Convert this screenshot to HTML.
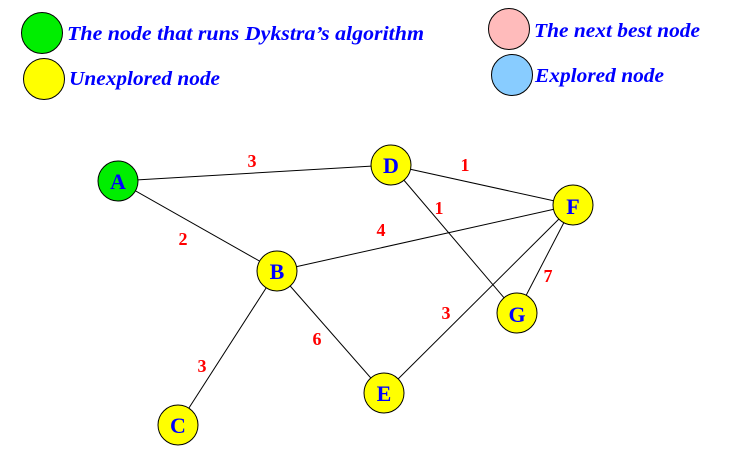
<!DOCTYPE html>
<html><head><style>body{margin:0;background:#fff}svg{display:block}</style></head><body>
<svg width="736" height="455" xmlns="http://www.w3.org/2000/svg">
<g stroke="#000" stroke-width="1">
<line x1="118" y1="181" x2="391" y2="165"/>
<line x1="118" y1="181" x2="277" y2="271"/>
<line x1="391" y1="165" x2="573" y2="205"/>
<line x1="391" y1="165" x2="517" y2="313"/>
<line x1="277" y1="271" x2="573" y2="205"/>
<line x1="277" y1="271" x2="384" y2="393"/>
<line x1="277" y1="271" x2="178" y2="425"/>
<line x1="573" y1="205" x2="384" y2="393"/>
<line x1="573" y1="205" x2="517" y2="313"/>
</g>
<g stroke="#000" stroke-width="1">
<circle cx="42" cy="33" r="20.5" fill="#00ee00"/>
<circle cx="44" cy="79" r="20.5" fill="#ffff00"/>
<circle cx="509" cy="29" r="20.5" fill="#ffbbbb"/>
<circle cx="512" cy="75" r="20.5" fill="#88ccff"/>
<circle cx="118" cy="181" r="20" fill="#00ee00"/>
<circle cx="391" cy="165" r="20" fill="#ffff00"/>
<circle cx="573" cy="205" r="20" fill="#ffff00"/>
<circle cx="277" cy="271" r="20" fill="#ffff00"/>
<circle cx="517" cy="313" r="20" fill="#ffff00"/>
<circle cx="384" cy="393" r="20" fill="#ffff00"/>
<circle cx="178" cy="425" r="20" fill="#ffff00"/>
</g>
<g font-family="Liberation Serif, serif" font-weight="bold" font-style="italic" font-size="20" fill="#0000ff">
<text x="67" y="40" textLength="357" lengthAdjust="spacingAndGlyphs">The node that runs  Dykstra’s algorithm</text>
<text x="69" y="85" textLength="151" lengthAdjust="spacingAndGlyphs">Unexplored node</text>
<text x="534" y="37" textLength="166" lengthAdjust="spacingAndGlyphs">The next best node</text>
<text x="535" y="82" textLength="129" lengthAdjust="spacingAndGlyphs">Explored node</text>
</g>
<g font-family="Liberation Serif, serif" font-weight="bold" font-size="22" fill="#0000ff" text-anchor="middle">
<text x="118" y="189">A</text>
<text x="391" y="173">D</text>
<text x="573" y="214">F</text>
<text x="277" y="279">B</text>
<text x="517" y="322">G</text>
<text x="384" y="401">E</text>
<text x="178" y="433">C</text>
</g>
<g font-family="Liberation Serif, serif" font-weight="bold" font-size="18" fill="#ff0000" text-anchor="middle">
<text x="252" y="167">3</text>
<text x="465" y="171">1</text>
<text x="439" y="214">1</text>
<text x="381" y="236">4</text>
<text x="183" y="245">2</text>
<text x="548" y="282">7</text>
<text x="446" y="319">3</text>
<text x="317" y="345">6</text>
<text x="202" y="372">3</text>
</g>
</svg>
</body></html>
